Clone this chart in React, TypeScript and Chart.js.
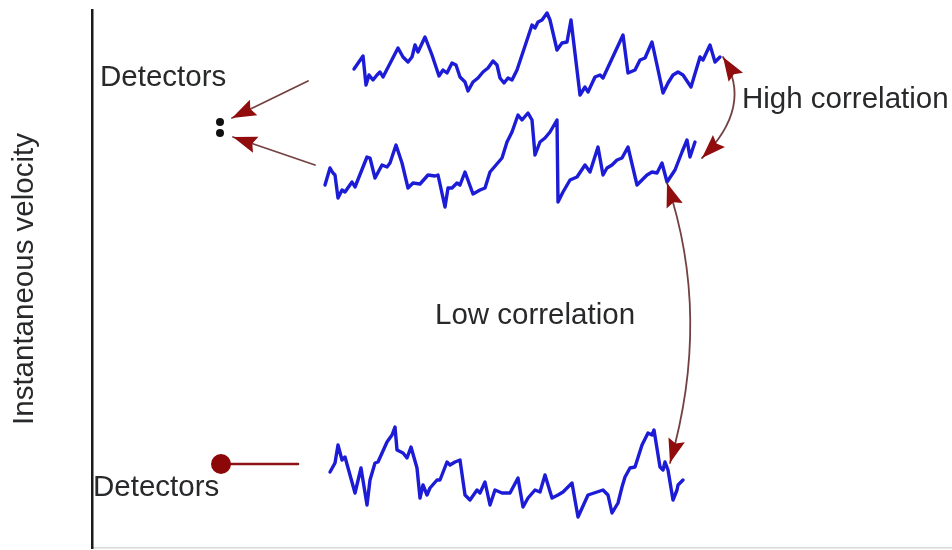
import React, { useEffect, useRef } from "react";
import { Chart, registerables } from "chart.js";

Chart.register(...registerables);

// Time axis (arbitrary units) and instantaneous velocity (arbitrary units)
const timeMax = 860;
const velocityMax = 538;

// Detector pair, upper trace
const traceUpper: [number, number][] = [
  [262,479],[271,492],[274,463],[277,473],[281,468],[285,473],[288,476],[291,471],[306,500],[311,491],
  [316,486],[320,491],[323,503],[326,496],[333,511],[340,493],[347,472],[351,478],[355,475],[360,485],
  [364,483],[368,471],[373,466],[376,457],[381,466],[386,470],[391,476],[396,480],[401,487],[405,483],
  [408,470],[412,465],[416,470],[420,468],[425,478],[440,523],[443,520],[446,526],[450,528],[455,535],
  [458,528],[465,498],[470,505],[475,506],[479,528],[488,453],[493,461],[496,456],[503,471],[508,473],
  [511,470],[531,513],[536,475],[543,478],[548,488],[553,490],[560,506],[565,483],[571,455],[576,465],
  [581,473],[586,476],[591,473],[599,461],[608,491],[611,488],[618,503],[623,486],[628,491]
];

// Detector pair, lower trace
const traceLower: [number, number][] = [
  [233,363],[238,380],[241,375],[243,373],[246,350],[250,358],[253,356],[260,366],[263,361],[275,391],
  [278,390],[283,370],[290,383],[295,381],[298,385],[304,403],[310,385],[316,360],[321,365],[328,364],
  [336,373],[343,372],[346,373],[353,341],[356,360],[360,360],[365,365],[368,363],[373,376],[381,354],
  [388,358],[393,360],[398,376],[410,390],[415,406],[420,416],[426,433],[430,428],[436,435],[440,428],
  [443,393],[448,406],[453,410],[458,416],[465,428],[466,346],[471,356],[478,368],[485,371],[493,383],
  [498,376],[506,401],[511,373],[515,380],[520,383],[525,388],[530,390],[536,401],[545,363],[550,368],
  [555,373],[560,376],[565,375],[570,385],[575,366],[583,378],[590,396],[595,408],[598,391],[603,406]
];

// Single distant detector trace
const traceDistant: [number, number][] = [
  [238,76],[243,85],[246,103],[250,88],[253,91],[263,55],[269,80],[275,43],[278,68],[283,85],
  [286,86],[295,106],[300,113],[303,121],[305,98],[311,95],[315,90],[319,101],[325,80],[328,50],
  [331,63],[335,53],[338,60],[345,68],[348,68],[355,86],[358,83],[363,86],[368,88],[373,53],
  [378,48],[385,58],[388,55],[393,66],[398,43],[403,58],[410,55],[418,55],[426,70],[431,41],
  [436,50],[443,58],[448,56],[453,73],[460,50],[466,53],[471,56],[480,65],[486,31],[496,53],
  [505,56],[511,58],[516,53],[520,35],[526,45],[530,61],[533,71],[538,80],[543,81],[550,103],
  [556,115],[560,113],[562,118],[568,81],[571,78],[573,86],[576,78],[581,48],[585,58],[586,63],[591,68]
];

const yAxisTitle = "Instantaneous velocity";

// Annotation labels and their anchor (time, velocity)
const annotationTexts = ["Detectors", "High correlation", "Low correlation", "Detectors"];
const annotationAnchors: [number, number][] = [[8, 470], [650, 448], [343, 232], [1, 60]];

// Detector markers
const pairDetectors: [number, number][] = [[128, 426], [128, 415]];
const singleDetector: [number, number] = [129, 84];
const singleDetectorLink: [number, number] = [206, 84];

// Straight pointer arrows: from (t, v) to (t, v)
const pointerArrows: [number, number, number, number][] = [
  [216, 467, 140, 430],
  [223, 383, 141, 411],
];

// Curved double-headed arrows: start, control, end
const correlationArrows: [number, number, number, number, number, number][] = [
  [631, 491, 662, 442, 610, 390],
  [575, 365, 620, 231, 578, 85],
];

const traceColor = "rgb(28,28,215)";
const arrowLineColor = "rgb(115,65,65)";
const arrowHeadColor = "rgb(145,12,12)";
const textColor = "#28292b";
const textFont = "29.5px 'Liberation Sans', Arial, sans-serif";

function drawHead(ctx: CanvasRenderingContext2D, tx: number, ty: number, fx: number, fy: number) {
  const ang = Math.atan2(ty - fy, tx - fx);
  const L = 24;
  const W = 8.5;
  const bx = tx - L * Math.cos(ang);
  const by = ty - L * Math.sin(ang);
  const px = -Math.sin(ang);
  const py = Math.cos(ang);
  const nx = tx - L * 0.85 * Math.cos(ang);
  const ny = ty - L * 0.85 * Math.sin(ang);
  ctx.beginPath();
  ctx.moveTo(tx, ty);
  ctx.lineTo(bx + W * px, by + W * py);
  ctx.lineTo(nx, ny);
  ctx.lineTo(bx - W * px, by - W * py);
  ctx.closePath();
  ctx.fillStyle = arrowHeadColor;
  ctx.fill();
}

const annotationPlugin = {
  id: "diagramAnnotations",
  afterDatasetsDraw(chart: any) {
    const ctx: CanvasRenderingContext2D = chart.ctx;
    const xs = chart.scales.x;
    const ys = chart.scales.y;
    const X = (v: number) => xs.getPixelForValue(v);
    const Y = (v: number) => ys.getPixelForValue(v);
    ctx.save();

    ctx.font = textFont;
    ctx.fillStyle = textColor;
    ctx.textAlign = "left";
    ctx.textBaseline = "middle";
    annotationTexts.forEach((t, i) => {
      ctx.fillText(t, X(annotationAnchors[i][0]), Y(annotationAnchors[i][1]));
    });

    ctx.lineCap = "round";
    pointerArrows.forEach(([t0, v0, t1, v1]) => {
      const x0 = X(t0), y0 = Y(v0), x1 = X(t1), y1 = Y(v1);
      ctx.strokeStyle = arrowLineColor;
      ctx.lineWidth = 1.8;
      ctx.beginPath();
      ctx.moveTo(x0, y0);
      ctx.lineTo(x1, y1);
      ctx.stroke();
      drawHead(ctx, x1, y1, x0, y0);
    });

    correlationArrows.forEach(([t0, v0, tc, vc, t1, v1]) => {
      const x0 = X(t0), y0 = Y(v0), xc = X(tc), yc = Y(vc), x1 = X(t1), y1 = Y(v1);
      ctx.strokeStyle = arrowLineColor;
      ctx.lineWidth = 1.8;
      ctx.beginPath();
      ctx.moveTo(x0, y0);
      ctx.quadraticCurveTo(xc, yc, x1, y1);
      ctx.stroke();
      drawHead(ctx, x0, y0, xc, yc);
      drawHead(ctx, x1, y1, xc, yc);
    });

    ctx.fillStyle = "#111";
    pairDetectors.forEach(([t, v]) => {
      ctx.beginPath();
      ctx.arc(X(t), Y(v), 4, 0, Math.PI * 2);
      ctx.fill();
    });

    ctx.strokeStyle = "rgb(140,20,20)";
    ctx.lineWidth = 2.5;
    ctx.beginPath();
    ctx.moveTo(X(singleDetector[0]), Y(singleDetector[1]));
    ctx.lineTo(X(singleDetectorLink[0]), Y(singleDetectorLink[1]));
    ctx.stroke();
    ctx.fillStyle = "rgb(140,8,8)";
    ctx.beginPath();
    ctx.arc(X(singleDetector[0]), Y(singleDetector[1]), 10, 0, Math.PI * 2);
    ctx.fill();

    ctx.restore();
  },
};

const toPoints = (arr: [number, number][]) => arr.map(([x, y]) => ({ x, y }));

export default function App() {
  const ref = useRef<HTMLCanvasElement | null>(null);
  useEffect(() => {
    if (!ref.current) return;
    const ds = (data: [number, number][]) => ({
      data: toPoints(data),
      borderColor: traceColor,
      borderWidth: 3.4,
      pointRadius: 0,
      tension: 0,
      fill: false,
      clip: false as any,
      borderJoinStyle: "round" as const,
      borderCapStyle: "round" as const,
    });
    const chart = new Chart(ref.current, {
      type: "line",
      data: {
        datasets: [ds(traceUpper), ds(traceLower), ds(traceDistant)],
      },
      options: {
        animation: false,
        responsive: false,
        devicePixelRatio: 1,
        layout: { padding: { top: 10, left: 0, right: 0, bottom: 2 } },
        plugins: { legend: { display: false }, tooltip: { enabled: false } },
        scales: {
          x: {
            type: "linear",
            min: 0,
            max: timeMax,
            ticks: { display: false },
            grid: { display: false, drawTicks: false },
            border: { display: true, color: "#d8d8d8", width: 1.5 },
          },
          y: {
            type: "linear",
            min: 0,
            max: velocityMax,
            ticks: { display: false },
            grid: { display: false, drawTicks: false },
            border: { display: true, color: "#1a1a1a", width: 2.5 },
            title: {
              display: true,
              text: yAxisTitle,
              color: textColor,
              font: { family: "'Liberation Sans', Arial, sans-serif", size: 29.5 },
              padding: { top: 7, bottom: 0 },
            },
            afterFit: (s: any) => {
              s.width = 92;
            },
          },
        },
      },
      plugins: [annotationPlugin],
    });
    return () => chart.destroy();
  }, []);
  return (
    <div style={{ position: "fixed", left: 0, top: 0, width: 952, height: 550, background: "#fff" }}>
      <canvas ref={ref} width={952} height={550} />
    </div>
  );
}
